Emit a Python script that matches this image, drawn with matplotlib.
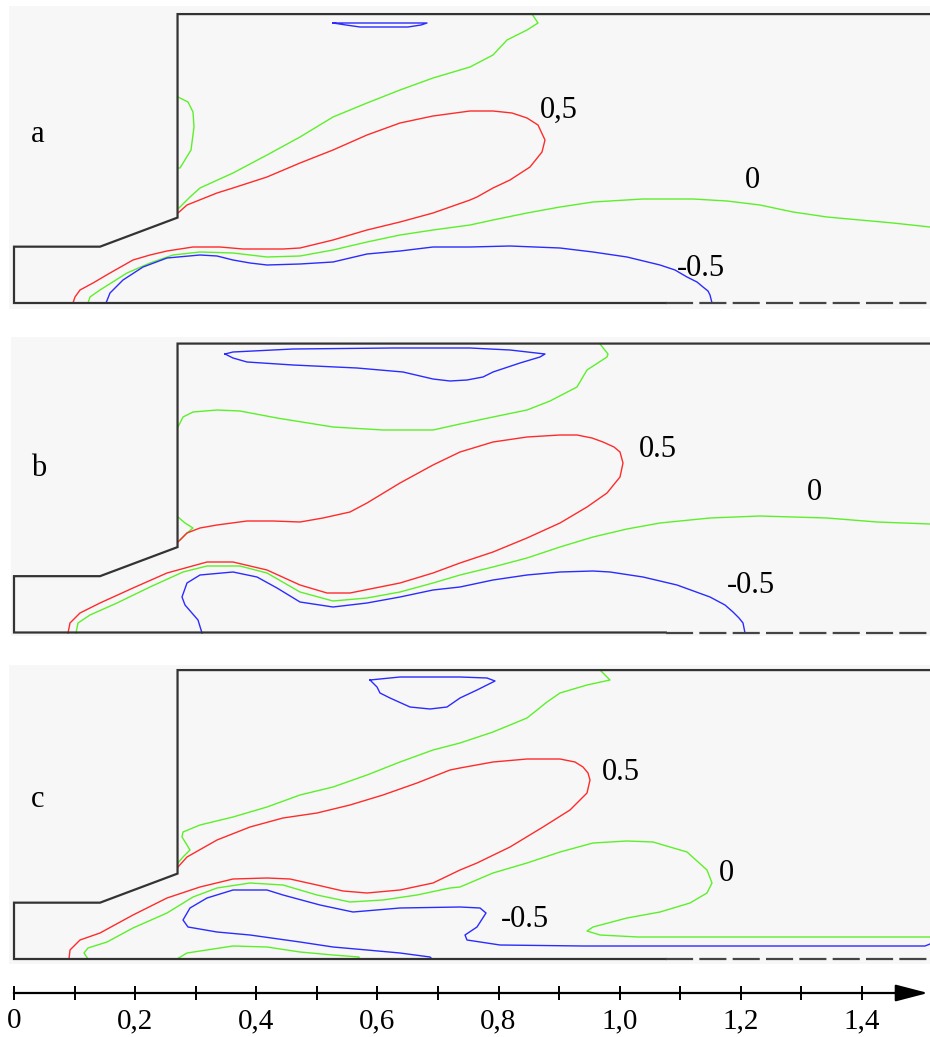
import numpy as np
import matplotlib
matplotlib.use("Agg")
import matplotlib.pyplot as plt

plt.rcParams['font.family'] = ['Liberation Serif', 'DejaVu Serif']
plt.rcParams['lines.scale_dashes'] = False

# picture scale: 0 on the ruler sits at x=14 px, one unit is 605.7 px
X0 = 14.0
PX = 605.7
W, H = 930, 1037

RED = '#ff2b2b'
GREEN = '#5cf02a'
BLUE = '#2b2bff'
WALL = '#333333'

# channel outline (same for all three panels), axis units
wall_x = [1.512, 0.270, 0.270, 0.142, 0.0, 0.0, 1.076]
wall_y = [0.477, 0.477, 0.141, 0.093, 0.093, 0.0, 0.0]
axis_x = [1.076, 1.512]   # symmetry axis, dashed part

ruler_major = [0.0, 0.2, 0.4, 0.6, 0.8, 1.0, 1.2, 1.4]
ruler_minor = [0.1, 0.3, 0.5, 0.7, 0.9, 1.1, 1.3]
ruler_labels = ['0', '0,2', '0,4', '0,6', '0,8', '1,0', '1,2', '1,4']

# contour traces, (x, y) in pixels
a_blue_top = [(333, 23), (427, 23), (421, 25), (408, 27), (360, 27), (346, 25), (333, 23)]
a_green_top = [(179, 208), (190, 197), (200, 188), (233, 173), (267, 155), (300, 137), (333, 117),
               (367, 103), (400, 90), (433, 78), (470, 67), (493, 55), (507, 40), (527, 30),
               (538, 23), (532, 14)]
a_green_wall = [(178, 97), (188, 102), (193, 112), (194, 127), (191, 150), (180, 168), (178, 168)]
a_red = [(178, 213), (187, 205), (217, 193), (233, 188), (267, 177), (300, 163), (333, 150),
         (367, 135), (400, 123), (433, 116), (470, 111), (493, 111), (512, 113), (527, 118),
         (538, 125), (545, 140), (542, 152), (530, 167), (510, 180), (493, 188), (477, 197),
         (470, 200), (433, 213), (400, 222), (367, 230), (333, 240), (300, 248), (283, 249),
         (243, 249), (220, 247), (193, 247), (167, 251), (150, 255), (133, 260), (110, 273),
         (93, 283), (80, 290), (75, 297), (73, 303)]
a_green_low = [(88, 303), (90, 297), (100, 290), (127, 273), (150, 263), (173, 255), (200, 252),
               (233, 253), (267, 257), (300, 256), (333, 250), (367, 242), (400, 235), (433, 230),
               (470, 225), (493, 220), (527, 213), (560, 207), (593, 202), (643, 199), (693, 199),
               (727, 201), (760, 205), (793, 212), (827, 217), (860, 220), (893, 223), (930, 227)]
a_blue_low = [(106, 303), (110, 293), (123, 280), (143, 267), (167, 258), (200, 255), (217, 256),
              (233, 260), (250, 263), (267, 265), (300, 264), (333, 262), (367, 254), (400, 251),
              (433, 247), (470, 247), (510, 246), (560, 248), (593, 252), (627, 257), (660, 265),
              (675, 270), (687, 277), (697, 282), (703, 287), (708, 291), (710, 295), (712, 303)]

b_blue_top = [(225, 354), (233, 352), (293, 349), (393, 348), (470, 348), (510, 350), (545, 354),
              (540, 357), (520, 363), (493, 372), (483, 377), (467, 380), (450, 381), (433, 379),
              (403, 372), (357, 368), (293, 365), (247, 362), (233, 358), (225, 354)]
b_green_top = [(178, 427), (183, 417), (193, 412), (217, 410), (240, 411), (277, 418), (333, 427),
               (383, 430), (433, 430), (460, 424), (493, 417), (527, 410), (550, 401), (577, 387),
               (587, 370), (607, 357), (608, 354), (600, 344)]
b_green_wall = [(178, 517), (185, 523), (193, 528), (187, 533), (180, 540)]
b_red = [(178, 542), (187, 533), (200, 528), (217, 525), (247, 521), (273, 521), (300, 522),
         (323, 518), (350, 512), (367, 503), (400, 483), (433, 465), (460, 452), (493, 442),
         (527, 437), (560, 435), (577, 435), (592, 438), (603, 442), (614, 447), (620, 452),
         (623, 463), (620, 477), (607, 493), (587, 507), (560, 523), (527, 538), (493, 552),
         (460, 563), (433, 573), (400, 583), (350, 593), (327, 593), (300, 585), (267, 570),
         (233, 562), (207, 562), (167, 573), (133, 588), (100, 603), (80, 613), (70, 623),
         (68, 633)]
b_green_low = [(76, 633), (78, 623), (90, 615), (117, 603), (150, 587), (183, 572), (207, 566),
               (240, 566), (267, 573), (300, 592), (333, 601), (367, 598), (400, 592), (433, 583),
               (460, 575), (493, 567), (527, 558), (560, 547), (593, 537), (627, 529), (660, 523),
               (710, 518), (760, 516), (793, 517), (827, 518), (877, 522), (930, 524)]
b_blue_low = [(202, 633), (198, 620), (185, 605), (182, 597), (187, 583), (200, 575), (233, 572),
              (257, 577), (277, 588), (300, 602), (333, 607), (367, 603), (400, 597), (433, 590),
              (460, 587), (493, 580), (527, 575), (560, 572), (593, 571), (610, 572), (643, 577),
              (677, 585), (710, 597), (725, 605), (733, 612), (739, 618), (743, 623), (745, 633)]

c_blue_top = [(370, 680), (377, 687), (380, 693), (390, 698), (410, 707), (430, 709), (447, 707),
              (460, 698), (477, 690), (495, 681), (487, 678), (460, 677), (400, 677), (370, 680)]
c_green_top = [(178, 863), (183, 857), (190, 850), (187, 845), (182, 837), (183, 832), (200, 825),
               (233, 817), (267, 807), (300, 795), (333, 787), (367, 775), (400, 762), (433, 750),
               (460, 743), (493, 732), (527, 718), (547, 702), (560, 693), (587, 685), (610, 680),
               (600, 670)]
c_red = [(178, 867), (187, 857), (217, 840), (250, 827), (283, 818), (317, 813), (350, 805),
         (383, 795), (417, 783), (450, 770), (460, 768), (493, 762), (527, 759), (560, 759),
         (575, 762), (583, 767), (588, 773), (590, 780), (587, 793), (570, 810), (543, 827),
         (510, 847), (477, 863), (460, 870), (433, 883), (400, 890), (367, 893), (343, 891),
         (317, 885), (290, 879), (267, 878), (233, 879), (200, 887), (167, 898), (133, 915),
         (100, 933), (80, 940), (70, 950), (69, 959)]
c_green_low = [(88, 959), (84, 953), (88, 948), (107, 942), (133, 928), (167, 913), (193, 897),
               (217, 888), (250, 883), (283, 885), (317, 895), (350, 902), (383, 900), (417, 895),
               (450, 888), (460, 887), (493, 873), (527, 863), (560, 852), (593, 843), (627, 841),
               (653, 842), (687, 852), (707, 870), (712, 883), (707, 893), (690, 903), (660, 912),
               (627, 918), (593, 927), (587, 931), (600, 935), (638, 937), (930, 937)]
c_green_bottom = [(177, 959), (187, 953), (233, 946), (267, 947), (300, 952), (333, 955),
                  (359, 957), (359, 959)]
c_blue_low = [(432, 959), (430, 957), (400, 953), (367, 950), (333, 947), (300, 942), (250, 935),
              (217, 932), (188, 927), (183, 920), (190, 908), (207, 898), (233, 890), (267, 890),
              (283, 895), (320, 905), (353, 912), (400, 908), (460, 907), (480, 908), (486, 913),
              (477, 927), (465, 935), (467, 940), (500, 945), (583, 946), (925, 946), (930, 944)]

# level labels: text, left edge x px, baseline y px
a_labels = [('a', 31, 142), ('0,5', 540, 118), ('0', 745, 188), ('-0.5', 677, 276)]
b_labels = [('b', 31, 476), ('0.5', 639, 457), ('0', 807, 500), ('-0.5', 727, 593)]
c_labels = [('c', 31, 807), ('0.5', 602, 780), ('0', 719, 881), ('-0.5', 501, 927)]

panels = [
    dict(box=(9, 6, 930, 309), bottom=303.0, labels=a_labels,
         lines=[(a_blue_top, BLUE), (a_green_top, GREEN), (a_green_wall, GREEN), (a_red, RED),
                (a_green_low, GREEN), (a_blue_low, BLUE)]),
    dict(box=(11, 337, 930, 636), bottom=632.5, labels=b_labels,
         lines=[(b_blue_top, BLUE), (b_green_top, GREEN), (b_green_wall, GREEN), (b_red, RED),
                (b_green_low, GREEN), (b_blue_low, BLUE)]),
    dict(box=(9, 665, 930, 964), bottom=959.0, labels=c_labels,
         lines=[(c_blue_top, BLUE), (c_green_top, GREEN), (c_red, RED), (c_green_low, GREEN),
                (c_green_bottom, GREEN), (c_blue_low, BLUE)]),
]


def to_units(pts, bottom):
    p = np.asarray(pts, dtype=float)
    return (p[:, 0] - X0) / PX, (bottom - p[:, 1]) / PX


fig = plt.figure(figsize=(W / 100, H / 100), dpi=100, facecolor='white')

for pnl in panels:
    x0, y0, x1, y1 = pnl['box']
    bot = pnl['bottom']
    ax = fig.add_axes([x0 / W, 1 - y1 / H, (x1 - x0) / W, (y1 - y0) / H])
    ax.set_facecolor('#f7f7f7')
    ax.set_xlim((x0 - X0) / PX, (x1 - X0) / PX)
    ax.set_ylim((bot - y1) / PX, (bot - y0) / PX)
    ax.set_xticks([])
    ax.set_yticks([])
    for s in ax.spines.values():
        s.set_visible(False)

    for pts, col in pnl['lines']:
        xs, ys = to_units(pts, bot)
        ax.plot(xs, ys, color=col, lw=1.0, solid_joinstyle='round')

    ax.plot(wall_x, wall_y, color=WALL, lw=1.6, clip_on=False, solid_joinstyle='miter')
    ax.plot(axis_x, [0, 0], color='#444444', lw=1.6, linestyle=(0, (19.5, 4.5)), clip_on=False)

    for txt, lx, ly in pnl['labels']:
        tx, ty = to_units([(lx, ly)], bot)
        ax.text(tx[0], ty[0], txt, fontsize=22, ha='left', va='baseline')

# ruler along the bottom
rax = fig.add_axes([0, (H - 993) / H, 1, 0.02])
rax.set_xlim(-X0 / PX, (W - X0) / PX)
rax.set_ylim(0, 1)
rax.patch.set_visible(False)
for k in ('top', 'left', 'right'):
    rax.spines[k].set_visible(False)
rax.spines['bottom'].set_linewidth(1.6)
rax.spines['bottom'].set_bounds(0, (905 - X0) / PX)
rax.set_yticks([])
rax.set_xticks(ruler_major)
rax.set_xticklabels(ruler_labels)
rax.set_xticks(ruler_minor, minor=True)
rax.tick_params(axis='x', which='both', direction='inout', length=10, width=1.4, color='black')
rax.tick_params(axis='x', which='major', labelsize=21, pad=6)
rax.annotate('', xy=((928 - X0) / PX, 0), xytext=((895 - X0) / PX, 0),
             arrowprops=dict(arrowstyle='-|>,head_length=1.0,head_width=0.26',
                             mutation_scale=20, color='black', lw=1.6, shrinkA=0, shrinkB=0),
             annotation_clip=False)

fig.savefig('out.png', dpi=100, facecolor='white')
